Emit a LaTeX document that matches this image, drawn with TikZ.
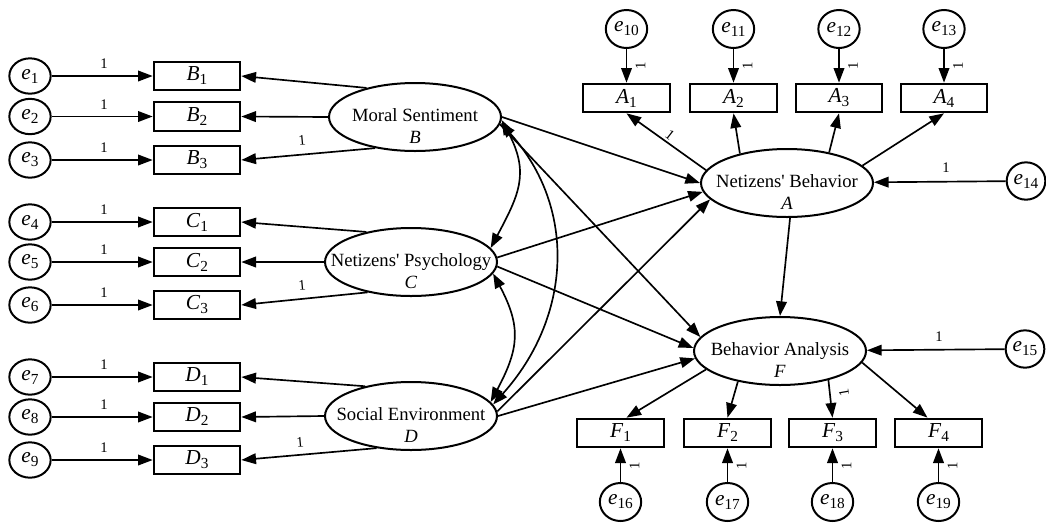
\documentclass[tikz,border=0pt]{standalone}
\usepackage{fontspec}
\setmainfont{Liberation Serif}
\usetikzlibrary{arrows.meta,shapes.geometric,calc}
\newcommand\ov[2]{\textit{#1}\raisebox{-3pt}{\fontsize{11.5}{11.5}\selectfont #2}}
\tikzset{
 obsbox/.style={draw, line width=1.5pt, minimum width=65pt, minimum height=21.5pt, inner sep=0pt, font=\fontsize{16}{16}\selectfont},
 latent/.style={draw, ellipse, line width=1.5pt, minimum width=129pt, minimum height=51pt, inner sep=0pt},
 lattext/.style={align=center, inner sep=0pt, font=\fontsize{14}{16}\selectfont},
 errnode/.style={draw, ellipse, line width=1.5pt, minimum width=31pt, minimum height=26.5pt, inner sep=0pt, font=\fontsize{16}{16}\selectfont},
 errtb/.style={errnode, minimum height=28.5pt},
 reg/.style={line width=1.25pt, -{Triangle[length=11pt,width=8pt]}},
 cov/.style={line width=1.25pt, {Triangle[length=11pt,width=8pt]}-{Triangle[length=11pt,width=8pt]}},
 one/.style={font=\fontsize{11}{11}\selectfont, inner sep=0pt},
}
\begin{document}
\begin{tikzpicture}[x=0.75pt,y=-0.75pt]
\useasboundingbox (0,0) rectangle (1046,522);

% latent variables
\node[latent] (B) at (415,117) {};
\node[lattext] (Bt) at (415,126) {Moral Sentiment\\\textit{B}};
\node[latent] (C) at (411,262) {};
\node[lattext] (Ct) at (411,271) {Netizens\textquotesingle{} Psychology\\\textit{C}};
\node[latent] (D) at (411,416) {};
\node[lattext] (Dt) at (411,425) {Social Environment\\\textit{D}};
\node[latent] (A) at (787,183) {};
\node[lattext] (At) at (787,192) {Netizens\textquotesingle{} Behavior\\\textit{A}};
\node[latent] (F) at (780,351) {};
\node[lattext] (Ft) at (780,360) {Behavior Analysis\\\textit{F}};

% left observed boxes and errors
\foreach \n/\l/\s/\y/\e in {B1/B/1/76/1, B2/B/2/116.5/2, B3/B/3/160/3,
                             C1/C/1/222/4, C2/C/2/262/5, C3/C/3/305/6,
                             D1/D/1/377/7, D2/D/2/417/8, D3/D/3/460/9}{
  \node[obsbox] (\n) at (197,\y) {\ov{\l}{\s}};
  \node[errnode] (e\e) at (30,\y) {\ov{e}{\e}};
  \draw[reg] (e\e) -- (\n);
  \node[one] (one\e) at (104,\y-12) {1};
}

% loadings on the left
\draw[reg] (B.149) -- (B1.east);
\draw[reg] (B.west) -- (B2.east);
\draw[reg] (B.218) -- (B3.east);
\draw[reg] (C.146) -- (C1.east);
\draw[reg] (C.west) -- (C2.east);
\draw[reg] (C.215) -- (C3.east);
\draw[reg] (D.147) -- (D1.east);
\draw[reg] (D.west) -- (D2.east);
\draw[reg] (D.223) -- (D3.east);
\node[one, rotate=5.5] (oB3) at (302,140) {1};
\node[one, rotate=5.5] (oC3) at (302,285) {1};
\node[one, rotate=5.5] (oD3) at (300,442) {1};

% top boxes A
\foreach \n/\s/\x/\e in {A1/1/626.5/10, A2/2/733.5/11, A3/3/839/12, A4/4/944/13}{
  \node[obsbox] (\n) at (\x,98) {\ov{A}{\s}};
  \node[errtb] (e\e) at (\x,29) {\ov{e}{\e}};
  \draw[reg] (e\e) -- (\n);
  \node[one, rotate=90] (one\e) at (\x+14,66) {1};
}
\draw[reg] (A.171) -- (A1.south);
\draw[reg] (A.148) -- (A2.south);
\draw[reg] (A.36) -- (A3.south);
\draw[reg] (A.13) -- (A4.south);
\node[one, rotate=-38] (oA1) at (670,135) {1};

% bottom boxes F
\foreach \n/\s/\x/\e in {F1/1/620.5/16, F2/2/727.5/17, F3/3/832.5/18, F4/4/938.5/19}{
  \node[obsbox] (\n) at (\x,433) {\ov{F}{\s}};
  \node[errtb] (e\e) at (\x,502) {\ov{e}{\e}};
  \draw[reg] (e\e) -- (\n);
  \node[one, rotate=90] (one\e) at (\x+14,466) {1};
}
\draw[reg] (F.194) -- ($(F1.north)+(6,0)$);
\draw[reg] (F.216) -- (F2.north);
\draw[reg] (F.329) -- (F3.north);
\draw[reg] (F.352) -- ($(F4.north)+(-11,0)$);
\node[one, rotate=100] (oF3) at (844,393) {1};

% disturbances
\node[errnode, minimum width=29pt, minimum height=28pt] (e14) at (1026,181) {\ov{e}{14}};
\draw[reg] (e14) -- (A);
\node[one] (o14) at (946,168) {1};
\node[errnode, minimum width=29pt, minimum height=28pt] (e15) at (1025,349) {\ov{e}{15}};
\draw[reg] (e15) -- (F);
\node[one] (o15) at (939,337) {1};

% structural paths
\draw[reg] (B.east) -- (A.west);
\draw[reg] (C.3) -- (A.186);
\draw[reg] (D.3) -- (A.192);
\draw[reg] (B.355) -- (F.170);
\draw[reg] (C.357) -- (F.178);
\draw[reg] (D.0) -- (F.185);
\draw[reg] (A.275) -- (F.north);

% covariances
\draw[cov] (B.358) to[out=-62,in=62,looseness=1.2] (C.10);
\draw[cov] (B.356) to[out=-48,in=48,looseness=1.05] (D.8);
\draw[cov] (C.352) to[out=-62,in=62,looseness=1.2] (D.10);
\end{tikzpicture}
\end{document}
